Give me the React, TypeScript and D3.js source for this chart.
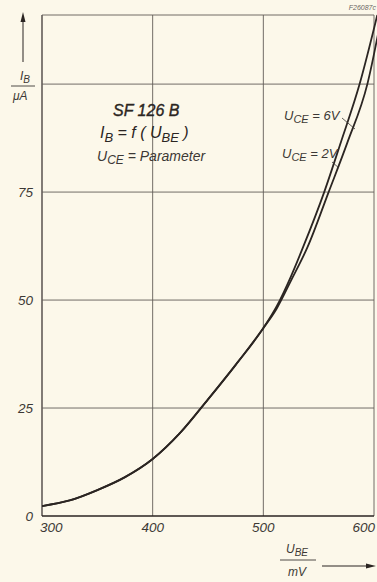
import React from "react";
import * as d3 from "d3";

const xTicks = [300, 400, 500, 600];
const yTicks = [0, 25, 50, 75];
const yGrid = [25, 50, 75, 100];

const ube6V = [300, 325, 350, 375, 400, 425, 450, 475, 500, 512, 525, 536, 555, 570, 587, 603];
const ib6V = [2.3, 3.6, 6, 9, 13.2, 19.3, 27, 35, 43.5, 48.5, 55.5, 62.3, 75, 86.5, 100, 116];
const ube2V = [300, 325, 350, 375, 400, 425, 450, 475, 500, 512, 525, 540, 559, 576, 594, 607];
const ib2V = [2.3, 3.6, 6, 9, 13.2, 19.3, 27, 35, 43.5, 48, 54.5, 62.3, 75, 86.5, 100, 116];

const W = 377, H = 582;
const L = 42, R = 374, T = 15, B = 516;

export default function App() {
  const x = d3.scaleLinear().domain([300, 600]).range([L, R]);
  const y = d3.scaleLinear().domain([0, 116]).range([B, T]);
  const line = d3
    .line<[number, number]>()
    .x((d) => x(d[0]))
    .y((d) => y(d[1]))
    .curve(d3.curveMonotoneX);
  const s6 = ube6V.map((u, i) => [u, ib6V[i]] as [number, number]);
  const s2 = ube2V.map((u, i) => [u, ib2V[i]] as [number, number]);
  const ink = "#2b2522";
  const grid = "#625c58";
  const txt = "#3c3835";
  const font = "'Liberation Sans', Arial, sans-serif";

  return (
    <svg
      width={W}
      height={H}
      style={{ position: "absolute", left: 0, top: 0, background: "#fcf8ea" }}
      fontFamily={font}
    >
      <rect x={0} y={0} width={W} height={H} fill="#fcf8ea" />
      <defs>
        <clipPath id="plot">
          <rect x={L} y={T - 2} width={W - L} height={B - T + 2} />
        </clipPath>
      </defs>
      {/* grid */}
      {yGrid.map((v) => (
        <line key={"gy" + v} x1={L} x2={R} y1={y(v)} y2={y(v)} stroke={grid} strokeWidth={0.9} />
      ))}
      <line x1={L} x2={R} y1={T} y2={T} stroke={grid} strokeWidth={0.9} />
      {xTicks.map((v) => (
        <line key={"gx" + v} x1={x(v)} x2={x(v)} y1={T} y2={B} stroke={grid} strokeWidth={v === 300 ? 1.6 : 0.9} />
      ))}
      <line x1={L} x2={R} y1={B} y2={B} stroke={ink} strokeWidth={1.6} />
      {/* curves */}
      <g clipPath="url(#plot)">
        <path d={line(s2) || ""} fill="none" stroke={ink} strokeWidth={1.8} />
        <path d={line(s6) || ""} fill="none" stroke={ink} strokeWidth={1.8} />
      </g>
      {/* y tick labels */}
      {yTicks.map((v) => (
        <text key={"yt" + v} x={33} y={y(v) + 5} textAnchor="end" fontSize={13.5} fontStyle="italic" fill={txt}>
          {v}
        </text>
      ))}
      {/* x tick labels */}
      {xTicks.map((v, i) => (
        <text
          key={"xt" + v}
          x={i === 0 ? x(v) - 2 : i === xTicks.length - 1 ? x(v) + 1 : x(v)}
          y={532}
          textAnchor={i === 0 ? "start" : i === xTicks.length - 1 ? "end" : "middle"}
          fontSize={13.5}
          fontStyle="italic"
          fill={txt}
        >
          {v}
        </text>
      ))}
      {/* y axis label */}
      <line x1={23} x2={23} y1={62} y2={18} stroke={ink} strokeWidth={1} />
      <path d="M23,12 L20.5,22 L25.5,22 Z" fill={ink} />
      <text x={20} y={80} fontSize={12} fontStyle="italic" fill={txt}>
        I<tspan fontSize={10} dy={3}>B</tspan>
      </text>
      <line x1={11} x2={35} y1={86} y2={86} stroke={txt} strokeWidth={0.9} />
      <text x={13} y={100} fontSize={12} fontStyle="italic" fill={txt}>
        μA
      </text>
      {/* x axis label */}
      <text x={286} y={553} fontSize={12} fontStyle="italic" fill={txt}>
        U<tspan fontSize={10} dy={3}>BE</tspan>
      </text>
      <line x1={280} x2={316} y1={560} y2={560} stroke={txt} strokeWidth={0.9} />
      <text x={288} y={576} fontSize={12} fontStyle="italic" fill={txt}>
        mV
      </text>
      <line x1={322} x2={368} y1={566} y2={566} stroke={ink} strokeWidth={1} />
      <path d="M376,566 L366,563.5 L366,568.5 Z" fill={ink} />
      {/* title box */}
      <text x={113} y={116} fontSize={16} fontStyle="italic" fill={ink} stroke={ink} strokeWidth={0.35}>
        SF 126 B
      </text>
      <text x={100} y={138} fontSize={16} fontStyle="italic" fill={ink}>
        I<tspan fontSize={13} dy={4}>B</tspan>
        <tspan dy={-4}> = f ( U</tspan>
        <tspan fontSize={13} dy={4}>BE</tspan>
        <tspan dy={-4}> )</tspan>
      </text>
      <text x={97} y={161} fontSize={14} fontStyle="italic" fill={txt}>
        U<tspan fontSize={12} dy={3}>CE</tspan>
        <tspan dy={-3}> = Parameter</tspan>
      </text>
      {/* curve labels */}
      <text x={284} y={120} fontSize={13} fontStyle="italic" fill={txt}>
        U<tspan fontSize={11} dy={3}>CE</tspan>
        <tspan dy={-3}> = 6V</tspan>
      </text>
      <line x1={342} x2={355} y1={118} y2={129} stroke={txt} strokeWidth={0.8} />
      <text x={282} y={158} fontSize={13} fontStyle="italic" fill={txt}>
        U<tspan fontSize={11} dy={3}>CE</tspan>
        <tspan dy={-3}> = 2V</tspan>
      </text>
      <line x1={332} x2={339} y1={162} y2={168} stroke={txt} strokeWidth={0.8} />
      <text x={376} y={10} textAnchor="end" fontSize={7} fontStyle="italic" fill="#6a6460">
        F26087c
      </text>
    </svg>
  );
}
